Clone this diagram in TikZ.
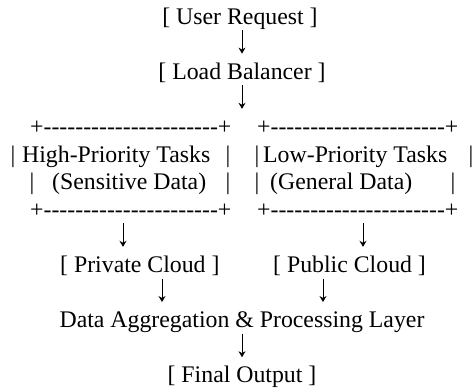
\documentclass[tikz,border=0pt]{standalone}
\usepackage{fontspec}
\setmainfont{Liberation Serif}
\usetikzlibrary{arrows.meta}

% a run of hyphens that never fuses into en/em dashes
\newcount\dashcount
\newcommand\dashrun[1]{\dashcount=0 \loop-\kern0pt\advance\dashcount by 1 \ifnum\dashcount<#1\repeat}
\newcommand\boxedge{+\dashrun{22}+}

\tikzset{
  txt/.style={inner sep=0pt, font=\fontsize{23.8}{28}\selectfont, anchor=base west},
  mid/.style={txt, anchor=base},
  flow/.style={line width=0.85pt, -{Stealth[length=6pt, width=7pt, inset=2pt]}},
}

\begin{document}
\begin{tikzpicture}[x=1pt, y=-1pt]
  \useasboundingbox (0,0) rectangle (472,389);

  % top of the flow
  \node[mid] (user) at (240,24)   {[ User Request ]};
  \node[mid] (lb)   at (242,79.2) {[ Load Balancer ]};

  % the two task boxes
  \node[txt] (hiTop) at (30,134.4)  {\boxedge};
  \node[txt] (loTop) at (257,134.4) {\boxedge};

  \node[mid] (hiBarA) at (13,162)  {|};
  \node[txt] (hiName) at (22,162)  {High-Priority Tasks};
  \node[mid] (hiBarB) at (228,162) {|};
  \node[mid] (loBarA) at (257,162) {|};
  \node[txt] (loName) at (263,162) {Low-Priority Tasks};
  \node[mid] (loBarB) at (471,162) {|};

  \node[mid] (hiBarC) at (32,189.6)  {|};
  \node[txt] (hiData) at (52,189.6)  {(Sensitive Data)};
  \node[mid] (hiBarD) at (228,189.6) {|};
  \node[mid] (loBarC) at (257,189.6) {|};
  \node[txt] (loData) at (270,189.6) {(General Data)};
  \node[mid] (loBarD) at (453,189.6) {|};

  \node[txt] (hiBot) at (30,217.2)  {\boxedge};
  \node[txt] (loBot) at (257,217.2) {\boxedge};

  % clouds
  \node[txt] (priv) at (60,272.4)  {[ Private Cloud ]};
  \node[txt] (pub)  at (273,272.4) {[ Public Cloud ]};

  % merge and result
  \node[mid] (agg) at (242,327.6) {Data Aggregation \& Processing Layer};
  \node[mid] (out) at (242,382.8) {[ Final Output ]};

  % short down arrows between the rows
  \foreach \n/\x/\b in {a1/242/51.6, a2/242/106.8, a3/123/244.8, a4/363/244.8,
                        a5/162/300, a6/323/300, a7/242/355.2} {
    \coordinate (\n top) at (\x,\b-21.5);
    \coordinate (\n tip) at (\x,\b+2);
    \draw[flow] (\n top) -- (\n tip);
  }
\end{tikzpicture}
\end{document}
